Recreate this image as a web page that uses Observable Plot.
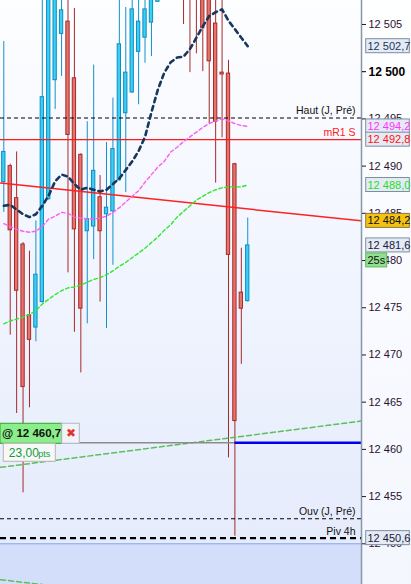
<!DOCTYPE html>
<html><head><meta charset="utf-8">
<script src="https://cdn.jsdelivr.net/npm/d3@7"></script>
<script src="https://cdn.jsdelivr.net/npm/@observablehq/plot@0.6"></script>
<style>html,body{margin:0;padding:0;background:#fff;}</style>
</head><body><div id="chart"></div>
<script>
// ---------- data ----------
const candleOpen  = [12488.3,12490.0,12486.6,12481.7,12474.2,12472.9,12475.6,12486.5,12499.1,12504.0,12505.3,12499.3,12491.2,12483.1,12483.6,12486.7,12484.9,12485.2,12488.5,12495.6,12497.8,12502.1,12503.6,12505.2,12507.4,12510.5,12513.5,12512.0,12514.0,12511.5,12510.5,12510.0,12509.0,12505.1,12499.9,12499.8,12490.2,12476.6,12475.7];
const candleHigh  = [12503.2,12490.2,12491.5,12481.9,12481.0,12484.2,12509.0,12511.0,12511.0,12509.0,12509.0,12506.7,12491.3,12494.7,12500.7,12489.0,12492.5,12497.2,12509.0,12506.8,12509.0,12509.0,12509.0,12511.0,12512.0,12515.0,12516.0,12515.5,12516.0,12513.0,12512.0,12511.0,12510.0,12508.0,12508.0,12501.2,12490.3,12481.3,12484.5];
const candleLow   = [12485.1,12472.1,12463.8,12455.4,12464.4,12471.4,12475.5,12486.4,12496.0,12499.5,12478.7,12472.4,12468.1,12473.3,12480.1,12475.6,12472.8,12479.5,12488.4,12487.2,12497.7,12496.5,12500.9,12501.6,12507.4,12509.0,12510.0,12509.5,12505.0,12499.9,12501.9,12500.0,12494.5,12488.2,12493.0,12459.1,12450.8,12469.0,12475.6];
const candleClose = [12491.5,12483.2,12476.8,12466.6,12471.6,12478.5,12497.3,12510.0,12510.0,12506.5,12493.3,12483.3,12474.9,12484.4,12489.5,12483.1,12485.6,12491.8,12502.9,12499.9,12506.6,12505.3,12506.6,12510.0,12511.0,12513.5,12512.0,12514.0,12511.0,12509.5,12508.5,12504.6,12501.1,12494.7,12499.7,12480.6,12463.0,12474.9,12481.6];

const maNavy  = [12485.8,12485.9,12485.4,12484.9,12484.6,12484.9,12485.8,12486.9,12488.4,12489.1,12488.9,12488.1,12487.5,12487.7,12487.5,12487.3,12487.5,12488.1,12488.7,12489.6,12490.5,12491.6,12493.1,12495.7,12498.1,12499.9,12501.0,12501.5,12501.6,12502.4,12503.6,12504.8,12505.9,12506.3,12506.6,12505.4,12504.5,12503.6,12502.7];
const maPink  = [12483.9,12483.6,12483.3,12483.1,12483.0,12483.1,12483.6,12484.4,12484.7,12485.1,12485.0,12484.6,12484.5,12484.4,12484.4,12484.5,12484.7,12485.1,12485.6,12486.2,12486.8,12487.4,12488.3,12489.1,12489.9,12490.5,12491.5,12492.0,12492.6,12493.1,12493.6,12494.1,12494.5,12494.8,12495.0,12494.8,12494.5,12494.3,12494.2];
const maGreen = [12473.3,12473.6,12473.8,12474.0,12474.3,12474.7,12475.4,12475.9,12476.4,12476.8,12477.1,12477.2,12477.4,12477.7,12478.0,12478.2,12478.5,12478.9,12479.4,12479.8,12480.3,12480.8,12481.3,12481.9,12482.5,12483.2,12483.8,12484.6,12485.2,12485.8,12486.4,12486.8,12487.2,12487.5,12487.7,12487.8,12487.8,12487.8,12488.0];

const trendIdx        = [-0.5, 55.7];
const trendRedVals    = [12488.2, 12484.2];
const trendGreenVals  = [12458.1, 12463.0];
const lowerGreenIdx   = [-0.5, 12];
const lowerGreenVals  = [12446.2, 12445.2];

const levelNames  = ["Haut (J, Pré)", "mR1 S", "Ouv (J, Pré)", "Piv 4h"];
const levelPrices = [12495.1, 12492.8, 12452.65, 12450.6];

const tagKeys   = ["navy", "pink", "mR1", "green", "trend", "last", "piv"];
const tagPrices = [12502.7, 12494.2, 12492.8, 12488.0, 12484.2, 12481.6, 12450.6];

const yTicks   = [12450, 12455, 12460, 12465, 12470, 12475, 12480, 12485, 12490, 12495, 12500, 12505];
const boldTick = 12500;

const orderPrice = 12460.7;
const orderStart = 36;
const orderPts   = 23.00;
const timerText  = "25s";
const zoneTop    = 12450.0;

// ---------- styles ----------
const xMin = -0.514, xMax = 55.72;
const yDom = [12445.69, 12507.54];
const FONT = "Liberation Sans, Arial, sans-serif";
const levelStyle = {
  "Haut (J, Pré)": {stroke: "#000", w: 1.1, dash: "4,3", text: "#111"},
  "mR1 S":         {stroke: "#ff1a1a", w: 1.2, dash: null, text: "#ff1a1a"},
  "Ouv (J, Pré)":  {stroke: "#000", w: 1.1, dash: "4,3", text: "#111"},
  "Piv 4h":        {stroke: "#000", w: 2.4, dash: "6,4", text: "#111"}
};
const tagStyle = {
  navy:  {text: "#17375e", fill: "#e5ebf4", stroke: "#7d8ea3"},
  pink:  {text: "#ff33ff", fill: "#e5ebf4", stroke: "#7d8ea3"},
  mR1:   {text: "#ff1111", fill: "#e5ebf4", stroke: "#7d8ea3"},
  green: {text: "#1ee01e", fill: "#e5ebf4", stroke: "#7d8ea3"},
  trend: {text: "#111111", fill: "#f5c211", stroke: "#8a7a40"},
  last:  {text: "#1a1a40", fill: "#e5ebf4", stroke: "#7d8ea3"},
  piv:   {text: "#1a1a40", fill: "#e5ebf4", stroke: "#7d8ea3"}
};

// ---------- derived tables ----------
const candles = candleOpen.map((o, i) => ({i, open: o, high: candleHigh[i], low: candleLow[i], close: candleClose[i]}));
const up = candles.filter(d => d.close >= d.open);
const down = candles.filter(d => d.close < d.open);
const series = arr => arr.map((v, i) => ({i, v}));
const pairs = (xs, vs) => xs.map((x, k) => ({i: x, v: vs[k]}));
const levels = levelNames.map((name, k) => ({name, price: levelPrices[k]}));
const tags = tagKeys.map((key, k) => ({key, price: tagPrices[k]}));
const lastTag = tags.filter(d => d.key === "last");
const order = [{price: orderPrice, start: orderStart, pts: orderPts}];

const tagFmt = v => d3.format(",.1f")(v).replace(",", " ").replace(".", ",");
const tickFmt = v => d3.format(",")(v).replace(",", " ");
const ptsFmt = v => d3.format(".2f")(v).replace(".", ",");
const XL = () => xMin, XR = () => xMax;

const chart = Plot.plot({
  width: 411, height: 584,
  marginLeft: 0, marginRight: 50, marginTop: 0, marginBottom: 0,
  x: {domain: [xMin, xMax], axis: null},
  y: {domain: yDom},
  color: {type: "identity"},
  style: "background: linear-gradient(to right, rgba(255,255,255,0) 361px, rgba(255,255,255,0.6) 361px), linear-gradient(to bottom, #fdfeff 0%, #f0f4fe 50%, #e3eafb 100%); font-family: " + FONT + ";",
  marks: [
    // lower zone
    Plot.rect([{y1: yDom[0], y2: zoneTop}], {x1: XL, x2: XR, y1: "y1", y2: "y2", fill: "#d3defb"}),
    Plot.ruleY([zoneTop], {stroke: "#86a6f0", strokeWidth: 1}),
    Plot.line(pairs(lowerGreenIdx, lowerGreenVals), {x: "i", y: "v", stroke: "#5cbf5c", strokeWidth: 1.5, strokeDasharray: "5,3", clip: true}),

    // candles
    Plot.ruleX(up,   {x: "i", y1: "low", y2: "high", stroke: "#1590c8", strokeWidth: 1, clip: true}),
    Plot.ruleX(down, {x: "i", y1: "low", y2: "high", stroke: "#a52a2a", strokeWidth: 1, clip: true}),
    Plot.rect(up,   {x1: d => d.i - 0.5, x2: d => d.i + 0.5, y1: "open", y2: "close", insetLeft: 1.56, insetRight: 1.56, fill: "#38d0f5", stroke: "#0f8cc2", strokeWidth: 1, clip: true}),
    Plot.rect(down, {x1: d => d.i - 0.5, x2: d => d.i + 0.5, y1: "open", y2: "close", insetLeft: 1.56, insetRight: 1.56, fill: "#e8736b", stroke: "#a52a2a", strokeWidth: 1, clip: true}),

    // long green + red trend lines
    Plot.line(pairs(trendIdx, trendGreenVals), {x: "i", y: "v", stroke: "#5cbf5c", strokeWidth: 1.5, strokeDasharray: "5,3", clip: true}),
    Plot.line(pairs(trendIdx, trendRedVals), {x: "i", y: "v", stroke: "#ff2020", strokeWidth: 1.5, clip: true}),

    // level lines
    ...levels.map(d => Plot.ruleY([d], {y: "price", stroke: levelStyle[d.name].stroke, strokeWidth: levelStyle[d.name].w, strokeDasharray: levelStyle[d.name].dash})),
    Plot.text(levels, {x: XR, y: "price", text: "name", fill: d => levelStyle[d.name].text, textAnchor: "end", dx: -6, dy: -7, fontSize: 10.5, fontFamily: FONT}),

    // moving averages
    Plot.line(series(maGreen), {x: "i", y: "v", stroke: "#2ee82e", strokeWidth: 1.4, strokeDasharray: "3.5,2.5", clip: true}),
    Plot.line(series(maPink),  {x: "i", y: "v", stroke: "#ff5cf0", strokeWidth: 1.4, strokeDasharray: "3.5,2.5", clip: true}),
    Plot.line(series(maNavy),  {x: "i", y: "v", stroke: "#17375e", strokeWidth: 2.6, strokeDasharray: "4.5,4", clip: true}),

    // order line
    Plot.ruleY(order, {y: "price", x1: XL, x2: "start", stroke: "#8c8c8c", strokeWidth: 1.5}),
    Plot.ruleY(order, {y: "price", x1: "start", x2: XR, stroke: "#0000ee", strokeWidth: 2.5}),
    Plot.rect(order, {x1: XL, x2: XL, y1: "price", y2: "price", insetLeft: 0, insetRight: -61.7, insetTop: -19, insetBottom: -1, fill: "#8aee8a", stroke: "#2fa52f", strokeWidth: 1}),
    Plot.rect(order, {x1: XL, x2: XL, y1: "price", y2: "price", insetLeft: 61.7, insetRight: -79.3, insetTop: -19, insetBottom: -1, fill: "#f2f3f6", stroke: "#b0b8c8", strokeWidth: 1}),
    Plot.rect(order, {x1: XL, x2: XL, y1: "price", y2: "price", insetLeft: 3.3, insetRight: -55.3, insetTop: 1, insetBottom: -19, fill: "#f8f8f8", stroke: "#b4b4b4", strokeWidth: 1}),
    Plot.text(order, {x: XL, y: "price", text: d => "@ " + tagFmt(d.price), textAnchor: "start", dx: 1.5, dy: -9.5, fontSize: 11.5, fontWeight: "bold", fill: "#111", fontFamily: FONT}),
    Plot.text(order, {x: XL, y: "price", text: () => "✖", textAnchor: "middle", dx: 70.5, dy: -9.5, fontSize: 12, fill: "#dd3333", fontFamily: "DejaVu Sans"}),
    Plot.text(order, {x: XL, y: "price", text: d => ptsFmt(d.pts), textAnchor: "start", dx: 8.3, dy: 10.3, fontSize: 12, fill: "#139a3c", fontFamily: FONT}),
    Plot.text(order, {x: XL, y: "price", text: () => "pts", textAnchor: "start", dx: 37.7, dy: 11, fontSize: 9, fill: "#139a3c", fontFamily: FONT}),

    // axis
    Plot.ruleX([xMax], {stroke: "#8797a8", strokeWidth: 1.5}),
    Plot.axisY(yTicks.filter(t => t !== boldTick), {anchor: "right", tickSize: 4, tickPadding: 3, tickFormat: tickFmt, fontSize: 11, color: "#2a1030", label: null}),
    Plot.axisY([boldTick], {anchor: "right", tickSize: 4, tickPadding: 3, tickFormat: tickFmt, fontSize: 12, fontWeight: "bold", color: "#000", label: null}),

    // price tags
    Plot.rect(tags, {x1: XR, x2: XR, y1: "price", y2: "price", insetLeft: 4.7, insetRight: -48.3, insetTop: -7, insetBottom: -7, fill: d => tagStyle[d.key].fill, stroke: d => tagStyle[d.key].stroke, strokeWidth: 1}),
    Plot.text(tags, {x: XR, y: "price", text: d => tagFmt(d.price), fill: d => tagStyle[d.key].text, textAnchor: "start", dx: 6, fontSize: 11, fontFamily: FONT}),
    Plot.rect(lastTag, {x1: XR, x2: XR, y1: "price", y2: "price", insetLeft: 4.7, insetRight: -25.7, insetTop: 8, insetBottom: -22, fill: "#8fe08f", stroke: "#62b862", strokeWidth: 1}),
    Plot.text(lastTag, {x: XR, y: "price", text: () => timerText, fill: "#111", textAnchor: "start", dx: 6, dy: 15, fontSize: 11, fontFamily: FONT})
  ]
});
document.getElementById("chart").appendChild(chart);
</script>
</body></html>
